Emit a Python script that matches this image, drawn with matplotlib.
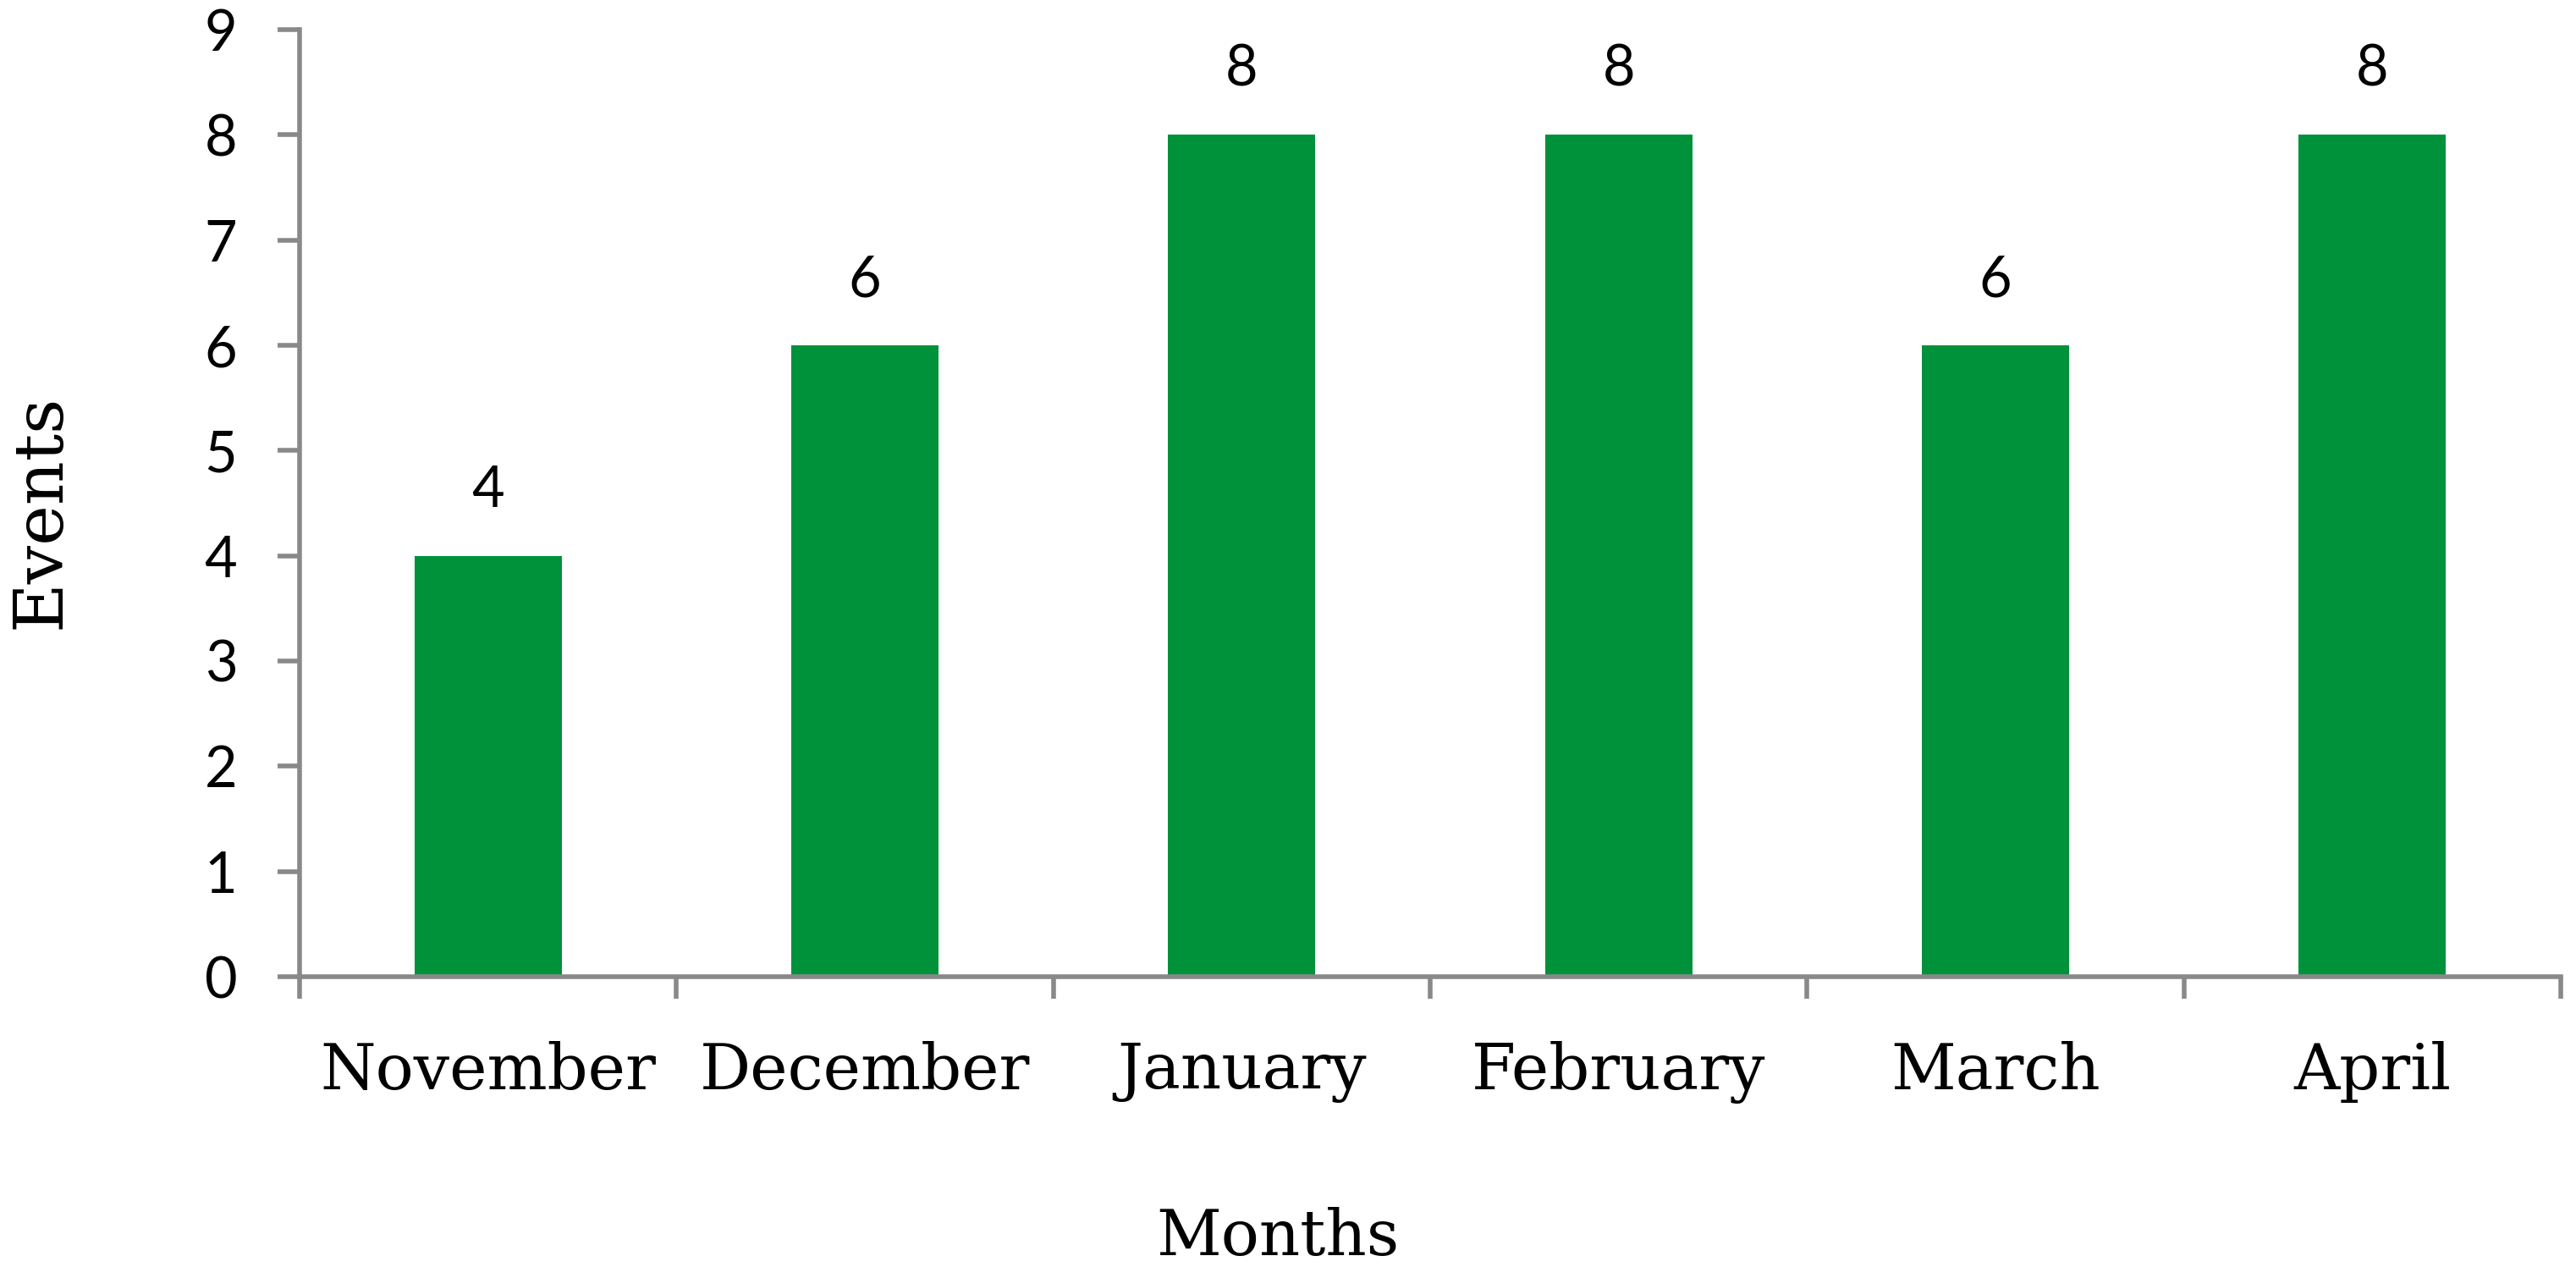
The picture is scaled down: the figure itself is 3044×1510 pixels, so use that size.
import matplotlib
matplotlib.use('Agg')
import matplotlib.pyplot as plt
import numpy as np

months = ['November', 'December', 'January', 'February', 'March', 'April']
events = [4, 6, 8, 8, 6, 8]

green = '#00923a'
gray = '#898989'

fig = plt.figure(figsize=(30.44, 15.10), dpi=100)
ax = fig.add_axes([354 / 3044, 1 - 1154 / 1510, (3026 - 354) / 3044, (1154 - 35) / 1510])

x = np.arange(len(months))
bars = ax.bar(x, events, width=0.39, color=green)

# labels above bars
for xi, v in zip(x, events):
    ax.annotate(str(v), (xi, v), xytext=(0, 33), textcoords='offset points',
                ha='center', va='bottom', fontsize=48, family='Lato')

ax.set_xlim(-0.5, len(months) - 0.5)
ax.set_ylim(0, 9)
ax.set_yticks(range(10))
ax.set_yticklabels([str(i) for i in range(10)], fontsize=48, family='Lato')

# month names at centres, tick marks at the boundaries
ax.set_xticks(x)
ax.set_xticklabels(months, fontsize=54, family='DejaVu Serif')
ax.set_xticks(np.arange(-0.5, len(months)), minor=True)
ax.tick_params(axis='x', which='major', length=0, pad=55)
ax.tick_params(axis='x', which='minor', length=19, width=4, color=gray, direction='out')
ax.tick_params(axis='y', length=19, width=4, color=gray, direction='out', pad=34)

for side in ['top', 'right']:
    ax.spines[side].set_visible(False)
for side in ['left', 'bottom']:
    ax.spines[side].set_color(gray)
    ax.spines[side].set_linewidth(4)

fig.text(1510 / 3044, 1 - 1462 / 1510, 'Months', ha='center', va='center',
         fontsize=54, family='DejaVu Serif')
fig.text(49 / 3044, 1 - 604 / 1510, 'Events', ha='center', va='center',
         rotation=90, fontsize=58, family='DejaVu Serif')

fig.savefig('out.png', dpi=100)
